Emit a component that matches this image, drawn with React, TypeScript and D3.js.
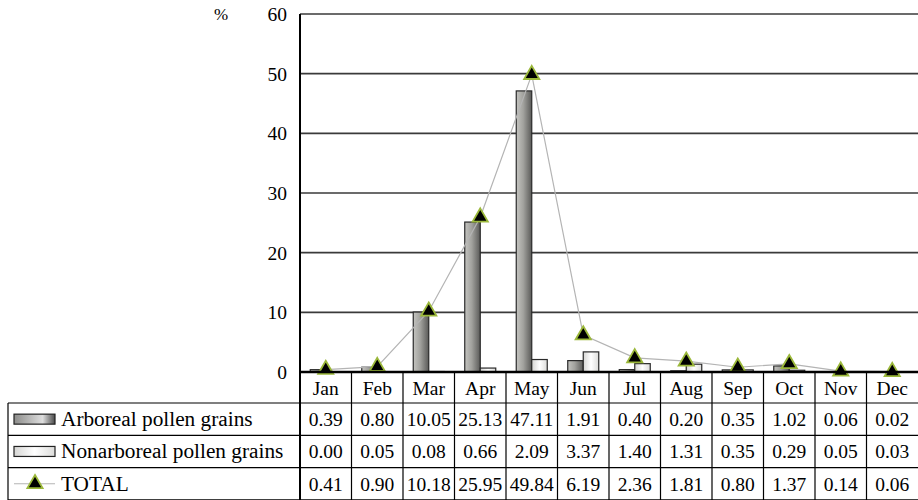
import React from "react";
import * as d3 from "d3";

const months = ["Jan", "Feb", "Mar", "Apr", "May", "Jun", "Jul", "Aug", "Sep", "Oct", "Nov", "Dec"];
const arboreal = [0.39, 0.8, 10.05, 25.13, 47.11, 1.91, 0.4, 0.2, 0.35, 1.02, 0.06, 0.02];
const nonarboreal = [0.0, 0.05, 0.08, 0.66, 2.09, 3.37, 1.4, 1.31, 0.35, 0.29, 0.05, 0.03];
const total = [0.41, 0.9, 10.18, 25.95, 49.84, 6.19, 2.36, 1.81, 0.8, 1.37, 0.14, 0.06];
const yTicks = [0, 10, 20, 30, 40, 50, 60];

const W = 918;
const H = 500;
const left = 300;
const right = 918;
const top = 14;
const base = 372;
const rowH = 32.3;
const font = "Times New Roman";

const App: React.FC = () => {
  const x = d3.scaleBand<string>().domain(months).range([left, right]);
  const y = d3.scaleLinear().domain([0, 60]).range([base, top]);
  const barW = 15.5;

  const line = d3
    .line<number>()
    .x((_, i) => x(months[i])! + x.bandwidth() / 2)
    .y((d) => y(d));
  const tri = d3.symbol().type(d3.symbolTriangle).size(100)();

  const rows = [
    { label: "Arboreal pollen grains", values: arboreal, kind: "arb" },
    { label: "Nonarboreal pollen grains", values: nonarboreal, kind: "non" },
    { label: "TOTAL", values: total, kind: "tot" },
  ];
  const rowTop = (i: number) => base + 31 + i * rowH;

  return (
    <svg width={W} height={H} style={{ position: "absolute", left: 0, top: 0 }}>
      <defs>
        <linearGradient id="gArb" x1="0" x2="1" y1="0" y2="0">
          <stop offset="0" stopColor="#c4c4c0" />
          <stop offset="0.45" stopColor="#a2a29e" />
          <stop offset="1" stopColor="#5a5a58" />
        </linearGradient>
        <linearGradient id="gNon" x1="0" x2="1" y1="0" y2="0">
          <stop offset="0" stopColor="#d6d6d4" />
          <stop offset="0.5" stopColor="#ffffff" />
          <stop offset="1" stopColor="#dcdcda" />
        </linearGradient>
        <linearGradient id="gArbLeg" x1="0" x2="1" y1="0" y2="0">
          <stop offset="0" stopColor="#8c8c8a" />
          <stop offset="0.7" stopColor="#dedede" />
          <stop offset="1" stopColor="#4a4a4a" />
        </linearGradient>
      </defs>

      {/* gridlines */}
      {yTicks.filter((t) => t > 0).map((t) => (
        <line key={t} x1={left} x2={right} y1={y(t)} y2={y(t)} stroke="#3a3a3a" strokeWidth={1.6} />
      ))}

      {/* y labels */}
      {yTicks.map((t) => (
        <text key={t} x={287} y={y(t) + 7} textAnchor="end" fontFamily={font} fontSize={19.5}>
          {t}
        </text>
      ))}
      <text x={221} y={y(60) + 6} textAnchor="middle" fontFamily={font} fontSize={17}>
        %
      </text>

      {/* bars */}
      {months.map((m, i) => {
        const c = x(m)! + x.bandwidth() / 2;
        return (
          <g key={m}>
            <rect x={c - barW} y={y(arboreal[i])} width={barW} height={base - y(arboreal[i])}
              fill="url(#gArb)" stroke="#2a2a2a" strokeWidth={1.2} />
            <rect x={c} y={y(nonarboreal[i])} width={barW} height={base - y(nonarboreal[i])}
              fill="url(#gNon)" stroke="#2a2a2a" strokeWidth={1.2} />
          </g>
        );
      })}

      {/* total line */}
      <path d={line(total) ?? ""} fill="none" stroke="#b4b4b4" strokeWidth={1.2} />
      {total.map((v, i) => (
        <path key={i} d={tri ?? ""} transform={`translate(${x(months[i])! + x.bandwidth() / 2},${y(v)})`}
          fill="#000" stroke="#9bb83a" strokeWidth={1.8} />
      ))}

      {/* axes */}
      <line x1={left} x2={left} y1={top} y2={H} stroke="#000" strokeWidth={2} />
      <line x1={left} x2={right} y1={base} y2={base} stroke="#000" strokeWidth={2.4} />

      {/* data table */}
      {months.map((m, i) => (
        <g key={m}>
          {i > 0 && <line x1={x(m)} x2={x(m)} y1={base} y2={H} stroke="#000" strokeWidth={1.2} />}
          <text x={x(m)! + x.bandwidth() / 2} y={base + 23} textAnchor="middle" fontFamily={font} fontSize={19.5}>
            {m}
          </text>
        </g>
      ))}
      {[0, 1, 2, 3].map((r) => (
        <line key={r} x1={8} x2={right} y1={rowTop(r)} y2={rowTop(r)} stroke="#000" strokeWidth={1.2} />
      ))}
      <line x1={8} x2={8} y1={rowTop(0)} y2={rowTop(3)} stroke="#000" strokeWidth={1.2} />

      {rows.map((row, r) => {
        const cy = rowTop(r) + rowH / 2;
        return (
          <g key={row.label}>
            {row.kind === "arb" && (
              <rect x={14} y={cy - 5} width={41} height={10} fill="url(#gArbLeg)" stroke="#222" strokeWidth={1.2} />
            )}
            {row.kind === "non" && (
              <rect x={14} y={cy - 5} width={41} height={10} fill="url(#gNon)" stroke="#222" strokeWidth={1.2} />
            )}
            {row.kind === "tot" && (
              <g>
                <line x1={14} x2={55} y1={cy} y2={cy} stroke="#b4b4b4" strokeWidth={1.2} />
                <path d={tri ?? ""} transform={`translate(35,${cy})`} fill="#000" stroke="#9bb83a" strokeWidth={1.8} />
              </g>
            )}
            <text x={61} y={cy + 7} fontFamily={font} fontSize={21.3}>
              {row.label}
            </text>
            {row.values.map((v, i) => (
              <text key={i} x={x(months[i])! + x.bandwidth() / 2} y={cy + 7} textAnchor="middle"
                fontFamily={font} fontSize={19.5}>
                {v.toFixed(2)}
              </text>
            ))}
          </g>
        );
      })}
    </svg>
  );
};

export default App;
